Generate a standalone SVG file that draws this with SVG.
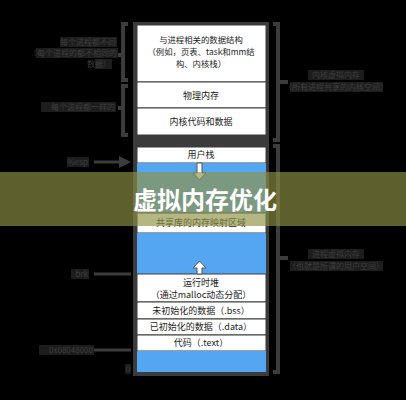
<svg xmlns="http://www.w3.org/2000/svg" width="406" height="400" viewBox="0 0 406 400">
<style>
.cell{fill:#ffffff;stroke:#3a3a3a;stroke-width:1}
.blue{fill:#55a6f2}
.t{font-family:"Noto Sans CJK SC","Liberation Sans",sans-serif;font-size:9px;fill:#222;text-anchor:middle}
.ts{font-size:8.4px}
.lbl{font-family:"Noto Sans CJK SC","Liberation Sans",sans-serif;font-size:8px;fill:#3e3e3e}
.lb{fill:#1d1d1d}
.br{fill:none;stroke:#3c3c3c;stroke-width:4}
.ln{stroke:#3c3c3c;stroke-width:3;fill:none}
.arr{fill:#ffffff;stroke:#555;stroke-width:1}
</style>
<defs>
<marker id="ah" markerWidth="4" markerHeight="4" refX="3" refY="2" orient="auto" markerUnits="strokeWidth">
<path d="M0,0 L4,2 L0,4 z" fill="#3c3c3c"/>
</marker>
</defs>
<rect x="0" y="0" width="406" height="400" fill="#000"/>

<g id="frame">
<rect x="133" y="22" width="136" height="354" fill="#3b3b3b"/>
</g>

<g id="kernel-data-structures">
<rect class="cell" x="137" y="25" width="129" height="57"/>
<text class="t ts" x="201" y="43">与进程相关的数据结构</text>
<text class="t ts" x="201" y="55">（例如，页表、task和mm结</text>
<text class="t ts" x="201" y="67">构、内核栈）</text>
</g>
<g id="physical-memory">
<rect class="cell" x="137" y="82" width="129" height="26"/>
<text class="t" x="201" y="99">物理内存</text>
</g>
<g id="kernel-code">
<rect class="cell" x="137" y="108" width="129" height="27"/>
<text class="t" x="201" y="125">内核代码和数据</text>
</g>
<g id="user-stack">
<rect class="cell" x="137" y="147" width="129" height="16"/>
<text class="t" x="201" y="158">用户栈</text>
</g>
<g id="gap1"><rect class="blue" x="137" y="163" width="129" height="50"/></g>
<g id="shared-lib">
<rect class="cell" x="137" y="213" width="129" height="20"/>
<text class="t" x="201" y="226">共享库的内存映射区域</text>
</g>
<g id="gap2"><rect class="blue" x="137" y="233" width="129" height="41"/></g>
<g id="heap">
<rect class="cell" x="137" y="274" width="129" height="28"/>
<text class="t" x="201" y="286">运行时堆</text>
<text class="t" x="201" y="298">（通过malloc动态分配）</text>
</g>
<g id="bss">
<rect class="cell" x="137" y="302" width="129" height="17"/>
<text class="t" x="201" y="314">未初始化的数据（.bss）</text>
</g>
<g id="data">
<rect class="cell" x="137" y="319" width="129" height="16"/>
<text class="t" x="201" y="330">已初始化的数据（.data）</text>
</g>
<g id="text-seg">
<rect class="cell" x="137" y="335" width="129" height="16"/>
<text class="t" x="201" y="346">代码（.text）</text>
</g>
<g id="gap3"><rect class="blue" x="137" y="351" width="129" height="21"/></g>

<g id="connectors">
<path class="arr" d="M197,163 L197,173 L193,173 L199.5,180 L206,173 L202,173 L202,163 z"/>
<path class="arr" d="M197,274 L197,268 L193,268 L199.5,261 L206,268 L202,268 L202,274 z"/>
<path class="br" d="M128,24 L123,24 L123,80 L128,80 M123,55 L118,55"/>
<path class="br" d="M128,86 L123,86 L123,135 L128,135 M123,108 L118,108"/>
<path class="br" d="M273,24 L278,24 L278,140 L273,140 M278,82 L288,82"/>
<path class="br" d="M273,146 L278,146 L278,372 L273,372 M278,258 L288,258"/>
<line class="ln" x1="94" y1="162" x2="128" y2="162" marker-end="url(#ah)"/>
<line class="ln" x1="94" y1="274" x2="131" y2="274"/>
<line class="ln" x1="94" y1="350" x2="131" y2="350"/>
</g>

<g id="left-labels">
<rect class="lb" x="60" y="37" width="57" height="10"/>
<rect class="lb" x="36" y="48" width="82" height="10"/>
<rect class="lb" x="95" y="59" width="17" height="10"/>
<text class="lbl" x="116" y="45" text-anchor="end">每个进程都不同</text>
<text class="lbl" x="117" y="56" text-anchor="end">（每个进程的都不相同的</text>
<text class="lbl" x="111" y="67" text-anchor="end">数据）</text>
<rect class="lb" x="41" y="102" width="75" height="10"/>
<text class="lbl" x="115" y="110" text-anchor="end">每个进程都一样的</text>
<rect class="lb" x="67" y="157" width="22" height="10"/>
<text class="lbl" x="88" y="165" text-anchor="end">%esp</text>
<rect class="lb" x="71" y="269" width="18" height="10"/>
<text class="lbl" x="88" y="277" text-anchor="end">brk</text>
<rect class="lb" x="39" y="345" width="55" height="10"/>
<text class="lbl" x="93" y="353" text-anchor="end">0x08048000</text>
<rect class="lb" x="125" y="364" width="6" height="10"/>
<text class="lbl" x="128" y="372" text-anchor="middle">0</text>
</g>

<g id="right-labels">
<rect class="lb" x="308" y="70" width="56" height="10"/>
<rect class="lb" x="290" y="82" width="93" height="10"/>
<text class="lbl" x="336" y="78" text-anchor="middle">内核虚拟内存</text>
<text class="lbl" x="336" y="90" text-anchor="middle">（所有进程共享的内核空间）</text>
<rect class="lb" x="308" y="249" width="56" height="10"/>
<rect class="lb" x="290" y="261" width="93" height="10"/>
<text class="lbl" x="336" y="257" text-anchor="middle">进程虚拟内存</text>
<text class="lbl" x="336" y="269" text-anchor="middle">（也就是所谓的用户空间）</text>
</g>

<g id="banner">
<rect x="0" y="172" width="406" height="54" fill="rgb(141,145,68)" fill-opacity="0.66"/>
<text x="205" y="209" text-anchor="middle" font-family="Noto Sans CJK SC, Liberation Sans, sans-serif" font-size="24" font-weight="bold" fill="#ffffff">虚拟内存优化</text>
</g>
</svg>
